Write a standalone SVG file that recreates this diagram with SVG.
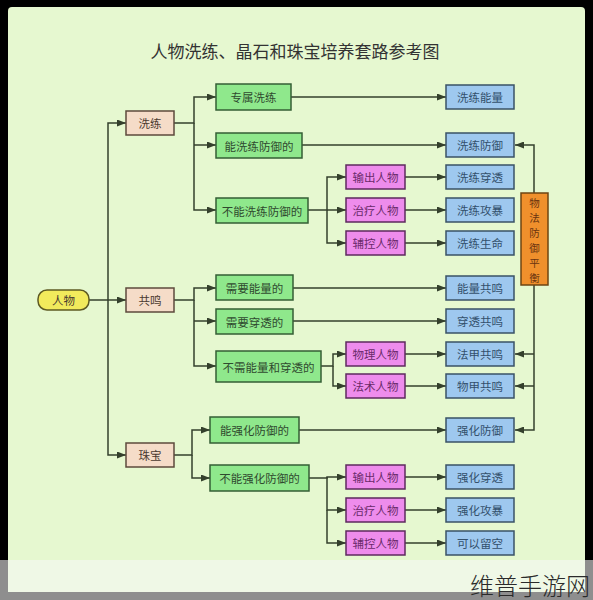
<svg xmlns="http://www.w3.org/2000/svg" width="593" height="600" viewBox="0 0 593 600">
<defs>
<marker id="ah" markerUnits="userSpaceOnUse" markerWidth="9" markerHeight="7" refX="9" refY="3.5" orient="auto">
<path d="M0,0 L9,3.5 L0,7 z" fill="#34402c"/>
</marker>
<style>
text{font-family:"Noto Sans CJK SC","Noto Sans",sans-serif;font-size:11.5px;text-anchor:middle;dominant-baseline:central}
.title{font-size:17px;fill:#333}
.yel{fill:#f2ea5c;stroke:#5e5a22;stroke-width:1.5}
.beige{fill:#f5dcc8;stroke:#5d4a3c;stroke-width:1.5}
.grn{fill:#8fe88c;stroke:#355e35;stroke-width:1.5}
.blu{fill:#9ec8ef;stroke:#3a5266;stroke-width:1.5}
.pnk{fill:#ee8cec;stroke:#5e2a5e;stroke-width:1.5}
.org{fill:#f0902c;stroke:#6e4412;stroke-width:1.5}
.tg{fill:#2f4a2f}.tb{fill:#33506c}.tp{fill:#6a2a6a}.tn{fill:#4a3a30}.to{fill:#6a3410;font-size:10.5px}
#edges path{fill:none;stroke:#34402c;stroke-width:1.5}
.a{marker-end:url(#ah)}
</style>
</defs>
<rect x="0" y="0" width="593" height="600" fill="#000"/>
<rect x="8" y="7" width="577" height="590" rx="4" fill="#e6f8d0"/>
<text class="title" x="295" y="50">人物洗练、晶石和珠宝培养套路参考图</text>

<g id="edges">
<path class="a" d="M89,300 H126"/>
<path class="a" d="M108,300 V123 H126"/>
<path class="a" d="M108,300 V455 H126"/>
<path class="a" d="M174,123 H194 V97 H216"/>
<path class="a" d="M194,123 V210 H216"/>
<path class="a" d="M194,145 H216"/>
<path class="a" d="M291,97 H446"/>
<path class="a" d="M302,145 H446"/>
<path class="a" d="M308,210 H327 V177 H346"/>
<path class="a" d="M327,210 V243 H346"/>
<path class="a" d="M327,210 H346"/>
<path class="a" d="M405,177 H446"/>
<path class="a" d="M405,210 H446"/>
<path class="a" d="M405,243 H446"/>
<path class="a" d="M534,193 V145 H515"/>
<path class="a" d="M534,285 V430 H515"/>
<path class="a" d="M534,354 H515"/>
<path class="a" d="M534,386 H515"/>
<path class="a" d="M174,300 H194 V288 H216"/>
<path class="a" d="M194,300 V366 H216"/>
<path class="a" d="M194,321 H216"/>
<path class="a" d="M293,288 H446"/>
<path class="a" d="M293,321 H446"/>
<path class="a" d="M321,366 H333 V354 H346"/>
<path class="a" d="M333,366 V386 H346"/>
<path class="a" d="M405,354 H446"/>
<path class="a" d="M405,386 H446"/>
<path class="a" d="M174,455 H192 V430 H210"/>
<path class="a" d="M192,455 V478 H210"/>
<path class="a" d="M299,430 H446"/>
<path class="a" d="M309,478 H327 V477 H346"/>
<path class="a" d="M327,477 V510 H346"/>
<path class="a" d="M327,510 V543 H346"/>
<path class="a" d="M405,477 H446"/>
<path class="a" d="M405,510 H446"/>
<path class="a" d="M405,543 H446"/>
</g>

<g id="n-renwu"><rect class="yel" x="38" y="290" width="51" height="20" rx="9"/><text class="tn" x="63.5" y="300">人物</text></g>
<g id="n-xilian"><rect class="beige" x="126" y="111" width="48" height="24"/><text class="tn" x="150" y="123">洗练</text></g>
<g id="n-gongming"><rect class="beige" x="126" y="288" width="48" height="24"/><text class="tn" x="150" y="300">共鸣</text></g>
<g id="n-zhubao"><rect class="beige" x="126" y="443" width="48" height="24"/><text class="tn" x="150" y="455">珠宝</text></g>

<g id="g1"><rect class="grn" x="216" y="84" width="75" height="26"/><text class="tg" x="253.5" y="97">专属洗练</text></g>
<g id="g2"><rect class="grn" x="216" y="133" width="86" height="25"/><text class="tg" x="259" y="145.5">能洗练防御的</text></g>
<g id="g3"><rect class="grn" x="216" y="198" width="92" height="25"/><text class="tg" x="262" y="210.5">不能洗练防御的</text></g>
<g id="g4"><rect class="grn" x="216" y="275" width="77" height="25"/><text class="tg" x="254.5" y="287.5">需要能量的</text></g>
<g id="g5"><rect class="grn" x="216" y="309" width="77" height="25"/><text class="tg" x="254.5" y="321.5">需要穿透的</text></g>
<g id="g6"><rect class="grn" x="216" y="351" width="105" height="31"/><text class="tg" x="268.5" y="366.5">不需能量和穿透的</text></g>
<g id="g7"><rect class="grn" x="210" y="417" width="89" height="26"/><text class="tg" x="254.5" y="430">能强化防御的</text></g>
<g id="g8"><rect class="grn" x="210" y="465" width="99" height="26"/><text class="tg" x="259.5" y="478">不能强化防御的</text></g>

<g id="p1"><rect class="pnk" x="346" y="165" width="59" height="24"/><text class="tp" x="375.5" y="177">输出人物</text></g>
<g id="p2"><rect class="pnk" x="346" y="198" width="59" height="24"/><text class="tp" x="375.5" y="210">治疗人物</text></g>
<g id="p3"><rect class="pnk" x="346" y="231" width="59" height="24"/><text class="tp" x="375.5" y="243">辅控人物</text></g>
<g id="p4"><rect class="pnk" x="346" y="342" width="59" height="24"/><text class="tp" x="375.5" y="354">物理人物</text></g>
<g id="p5"><rect class="pnk" x="346" y="374" width="59" height="24"/><text class="tp" x="375.5" y="386">法术人物</text></g>
<g id="p6"><rect class="pnk" x="346" y="465" width="59" height="24"/><text class="tp" x="375.5" y="477">输出人物</text></g>
<g id="p7"><rect class="pnk" x="346" y="498" width="59" height="24"/><text class="tp" x="375.5" y="510">治疗人物</text></g>
<g id="p8"><rect class="pnk" x="346" y="531" width="59" height="24"/><text class="tp" x="375.5" y="543">辅控人物</text></g>

<g id="b1"><rect class="blu" x="446" y="85" width="68" height="24"/><text class="tb" x="480" y="97">洗练能量</text></g>
<g id="b2"><rect class="blu" x="446" y="133" width="68" height="24"/><text class="tb" x="480" y="145">洗练防御</text></g>
<g id="b3"><rect class="blu" x="446" y="165" width="68" height="24"/><text class="tb" x="480" y="177">洗练穿透</text></g>
<g id="b4"><rect class="blu" x="446" y="198" width="68" height="24"/><text class="tb" x="480" y="210">洗练攻暴</text></g>
<g id="b5"><rect class="blu" x="446" y="231" width="68" height="24"/><text class="tb" x="480" y="243">洗练生命</text></g>
<g id="b6"><rect class="blu" x="446" y="276" width="68" height="24"/><text class="tb" x="480" y="288">能量共鸣</text></g>
<g id="b7"><rect class="blu" x="446" y="309" width="68" height="24"/><text class="tb" x="480" y="321">穿透共鸣</text></g>
<g id="b8"><rect class="blu" x="446" y="342" width="68" height="24"/><text class="tb" x="480" y="354">法甲共鸣</text></g>
<g id="b9"><rect class="blu" x="446" y="374" width="68" height="24"/><text class="tb" x="480" y="386">物甲共鸣</text></g>
<g id="b10"><rect class="blu" x="446" y="418" width="68" height="24"/><text class="tb" x="480" y="430">强化防御</text></g>
<g id="b11"><rect class="blu" x="446" y="465" width="68" height="24"/><text class="tb" x="480" y="477">强化穿透</text></g>
<g id="b12"><rect class="blu" x="446" y="498" width="68" height="24"/><text class="tb" x="480" y="510">强化攻暴</text></g>
<g id="b13"><rect class="blu" x="446" y="531" width="68" height="24"/><text class="tb" x="480" y="543">可以留空</text></g>

<g id="balance"><rect class="org" x="521" y="193" width="27" height="92"/>
<text class="to" x="534.5" y="202">物</text><text class="to" x="534.5" y="217">法</text><text class="to" x="534.5" y="232">防</text><text class="to" x="534.5" y="247">御</text><text class="to" x="534.5" y="262">平</text><text class="to" x="534.5" y="277">衡</text></g>

<rect x="0" y="560" width="593" height="40" fill="#8e8e8e"/>
<rect x="8" y="560" width="577" height="32" fill="#eff8e6"/>
<text x="530" y="584" style="font-size:24px;fill:#2a2a2a;font-weight:300">维普手游网</text>
</svg>
